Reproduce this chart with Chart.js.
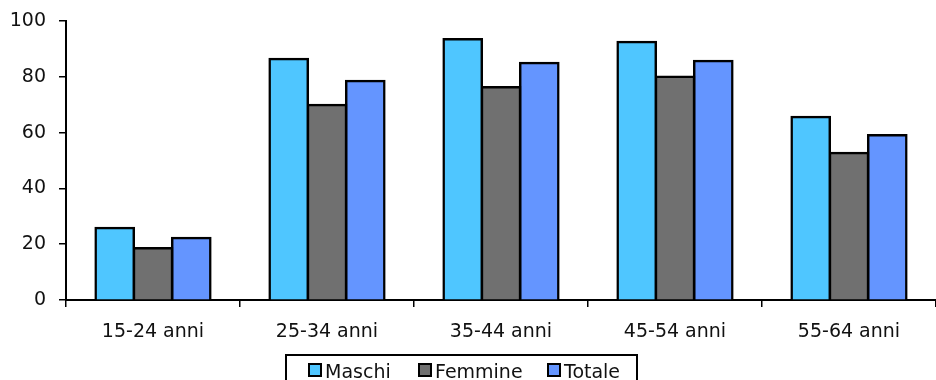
<!DOCTYPE html>
<html>
<head>
<meta charset="utf-8">
<script src="https://cdn.jsdelivr.net/npm/chart.js@4.4.1/dist/chart.umd.min.js"></script>
<style>
  html, body { margin: 0; padding: 0; background: #fff; overflow: hidden; }
  #wrap { position: relative; width: 936px; height: 380px; }
  #legend {
    position: absolute; left: 285px; top: 354px; width: 353px; height: 40px;
    border: 2px solid #000; box-sizing: border-box;
    font-family: "DejaVu Sans", sans-serif; font-size: 19px; color: #111;
  }
  #legend span.item { position: absolute; top: 3px; line-height: 24px; white-space: nowrap; }
  #legend i { display: inline-block; width: 10px; height: 10px; border: 2px solid #000; margin-right: 3px; vertical-align: 1px; }
</style>
</head>
<body>
<div id="wrap">
  <canvas id="chart" width="936" height="380"></canvas>
  <div id="legend"></div>
</div>
<script>
var categories = ["15-24 anni", "25-34 anni", "35-44 anni", "45-54 anni", "55-64 anni"];
var maschi = [25.8, 86.4, 93.5, 92.5, 65.6];
var femmine = [18.6, 69.9, 76.3, 80.0, 52.7];
var totale = [22.2, 78.5, 85.0, 85.7, 59.1];
var seriesNames = ["Maschi", "Femmine", "Totale"];
var seriesColors = ["#4FC6FF", "#707070", "#6495FF"];
var yTicks = [0, 20, 40, 60, 80, 100];

var font = { family: "DejaVu Sans", size: 19 };

var datasets = [maschi, femmine, totale].map(function (vals, i) {
  return {
    label: seriesNames[i],
    data: vals,
    backgroundColor: seriesColors[i],
    borderColor: "#000",
    borderWidth: 2.5,
    borderSkipped: "bottom",
    inflateAmount: 1.2,
    categoryPercentage: 0.66,
    barPercentage: 1.0
  };
});

// pin the plot area to the reference frame
var pinArea = {
  id: "pinArea",
  afterLayout: function (chart) {
    var y = chart.scales.y;
    chart.chartArea.top = 21;
    y.top = 21;
    y.height = y.bottom - y.top;
    y.configure();
  }
};

new Chart(document.getElementById("chart"), {
  type: "bar",
  data: { labels: categories, datasets: datasets },
  plugins: [pinArea],
  options: {
    responsive: false,
    animation: false,
    layout: { padding: { top: 15, right: 0, bottom: 0, left: 0 } },
    plugins: { legend: { display: false }, tooltip: { enabled: false } },
    scales: {
      x: {
        grid: { drawOnChartArea: false, drawTicks: true, tickLength: 7, color: "#000", lineWidth: 1.5, offset: true },
        border: { color: "#000", width: 2 },
        ticks: { color: "#111", font: font, padding: 14 },
        afterFit: function (s) { s.height = 80; }
      },
      y: {
        min: 0, max: 100,
        afterBuildTicks: function (s) { s.ticks = yTicks.map(function (v) { return { value: v }; }); },
        grid: { drawOnChartArea: false, drawTicks: true, tickLength: 7, color: "#000", lineWidth: 1.5 },
        border: { color: "#000", width: 2 },
        ticks: { color: "#111", font: font, padding: 13 },
        afterFit: function (s) { s.width = 66; }
      }
    }
  }
});

// legend box below the axis
var legend = document.getElementById("legend");
var itemLeft = [21, 131, 260];
seriesNames.forEach(function (name, i) {
  var el = document.createElement("span");
  el.className = "item";
  el.style.left = itemLeft[i] + "px";
  el.innerHTML = '<i style="background:' + seriesColors[i] + '"></i>' + name;
  legend.appendChild(el);
});
</script>
</body>
</html>
